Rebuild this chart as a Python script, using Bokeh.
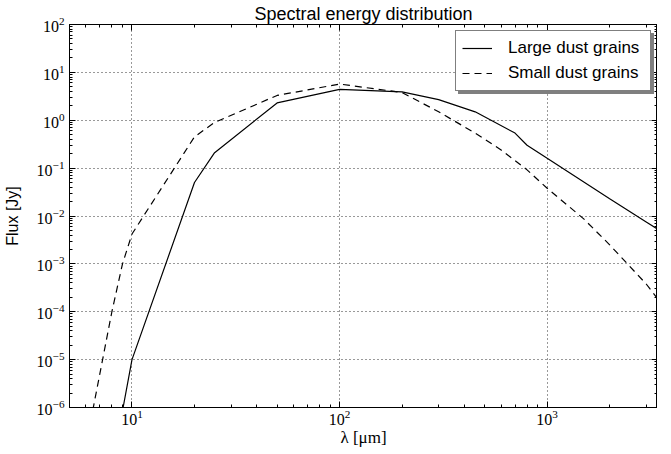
from bokeh.plotting import figure
from bokeh.models import LogAxis, FixedTicker, Legend, LegendItem, Range1d
from bokeh.embed import file_html
from bokeh.resources import INLINE

# ---- data ----
wl_large = [9, 10, 20, 25, 50, 100, 200, 300, 450, 700, 800, 1000, 2000, 3000, 4000]
flux_large = [8.5e-7, 1e-5, 0.05, 0.21, 2.3, 4.4, 3.9, 2.7, 1.5, 0.54, 0.30, 0.16, 0.023, 0.0075, 0.0034]

wl_small = [6, 8, 9, 10, 20, 25, 50, 100, 200, 300, 450, 600, 800, 1000, 1500, 2000, 3000, 4000]
flux_small = [1.6e-7, 1e-4, 1e-3, 4.2e-3, 0.45, 0.9, 3.3, 5.7, 3.8, 1.5, 0.54, 0.24, 0.092, 0.038, 0.0087, 0.0025, 3.8e-4, 7.5e-5]

x_major = [10, 100, 1000]
x_minor = [6, 7, 8, 9, 20, 30, 40, 50, 60, 70, 80, 90,
           200, 300, 400, 500, 600, 700, 800, 900, 2000, 3000]
y_major = [1e-6, 1e-5, 1e-4, 1e-3, 1e-2, 1e-1, 1e0, 1e1, 1e2]
y_minor = [m * 10.0 ** k for k in range(-6, 2) for m in (2, 3, 4, 5, 6, 7, 8, 9)]

title_text = "Spectral energy distribution"
x_label = "λ [μm]"
y_label = "Flux [Jy]"
labels = ["Large dust grains", "Small dust grains"]

FW, FH = 588, 383

p = figure(frame_width=FW, frame_height=FH, x_axis_type="log", y_axis_type="log",
           x_range=Range1d(5, 3400), y_range=Range1d(1e-6, 1e2),
           output_backend="svg", toolbar_location=None, title=title_text)
p.min_border_left = 0
p.min_border_right = 0
p.min_border_top = 0
p.min_border_bottom = 0
p.outline_line_color = "black"
p.outline_line_width = 1
p.background_fill_color = "white"
p.border_fill_color = "white"

p.title.text_font = "Liberation Sans"
p.title.text_font_size = "18px"
p.title.text_font_style = "normal"
p.title.text_color = "black"
p.title.align = "center"
p.title.offset = 0
p.title.standoff = 2

p.xaxis.ticker = FixedTicker(ticks=x_major, minor_ticks=x_minor)
p.yaxis.ticker = FixedTicker(ticks=y_major, minor_ticks=y_minor)

def style_axis(ax, show_labels=True):
    ax.major_tick_in = 6
    ax.major_tick_out = 0
    ax.minor_tick_in = 3
    ax.minor_tick_out = 0
    ax.axis_line_color = "black"
    ax.major_tick_line_color = "black"
    ax.minor_tick_line_color = "black"
    ax.major_label_text_font = "Liberation Serif"
    ax.major_label_text_color = "black"
    if show_labels:
        ax.major_label_text_font_size = "16px"
        ax.major_label_standoff = 3
    else:
        ax.major_label_text_font_size = "2px"
        ax.major_label_text_alpha = 0
        ax.major_label_standoff = 0

for ax in p.xaxis + p.yaxis:
    style_axis(ax)
p.xaxis.major_label_standoff = 2
p.yaxis.major_label_standoff = 5

p.xaxis.axis_label = x_label
p.xaxis.axis_label_text_font = "Liberation Serif"
p.xaxis.axis_label_text_font_size = "17px"
p.xaxis.axis_label_text_font_style = "normal"
p.xaxis.axis_label_text_color = "black"
p.xaxis.axis_label_standoff = 0
p.yaxis.axis_label = y_label
p.yaxis.axis_label_text_font = "Liberation Sans"
p.yaxis.axis_label_text_font_size = "16px"
p.yaxis.axis_label_text_font_style = "normal"
p.yaxis.axis_label_text_color = "black"
p.yaxis.axis_label_standoff = 13

top_ax = LogAxis(ticker=FixedTicker(ticks=x_major, minor_ticks=x_minor))
right_ax = LogAxis(ticker=FixedTicker(ticks=y_major, minor_ticks=y_minor))
style_axis(top_ax, False)
style_axis(right_ax, False)
p.add_layout(top_ax, "above")
p.add_layout(right_ax, "right")

for g in (p.xgrid, p.ygrid):
    g.grid_line_color = "black"
    g.grid_line_dash = "1 3"
    g.grid_line_alpha = 0.8
    g.grid_line_width = 1

r1 = p.line(wl_large, flux_large, line_color="black", line_width=1.2)
r2 = p.line(wl_small, flux_small, line_color="black", line_width=1.2, line_dash="7 5")
d1 = p.line([], [], line_alpha=0)
d2 = p.line([], [], line_alpha=0)

# legend geometry (fixed so that the shadow can be placed behind it)
PAD, GW, GH, STAND, LW, SP = 6, 30, 22, 16, 136, 3
LEG_W = 2 * PAD + GW + STAND + LW
LEG_H = 2 * PAD + 2 * GH + SP
lx = FW - 8 - LEG_W
ly = FH - 8 - LEG_H

def make_legend(items, loc):
    lg = Legend(items=items, location=loc)
    lg.label_text_font = "Liberation Sans"
    lg.label_text_font_size = "17px"
    lg.label_text_color = "black"
    lg.glyph_width = GW
    lg.glyph_height = GH
    lg.label_height = GH
    lg.label_width = LW
    lg.label_standoff = STAND
    lg.padding = PAD
    lg.spacing = SP
    lg.margin = 0
    lg.border_line_width = 1
    lg.background_fill_alpha = 1
    return lg

shadow = make_legend([LegendItem(label=" ", renderers=[d1]),
                      LegendItem(label="  ", renderers=[d2])], (lx + 3, ly - 3))
shadow.border_line_color = "#7f7f7f"
shadow.background_fill_color = "#7f7f7f"
shadow.label_text_alpha = 0
p.add_layout(shadow)

legend = make_legend([LegendItem(label=labels[0], renderers=[r1]),
                      LegendItem(label=labels[1], renderers=[r2])], (lx, ly))
legend.border_line_color = "black"
legend.background_fill_color = "white"
p.add_layout(legend)

open("out.html", "w").write(file_html(p, INLINE))
